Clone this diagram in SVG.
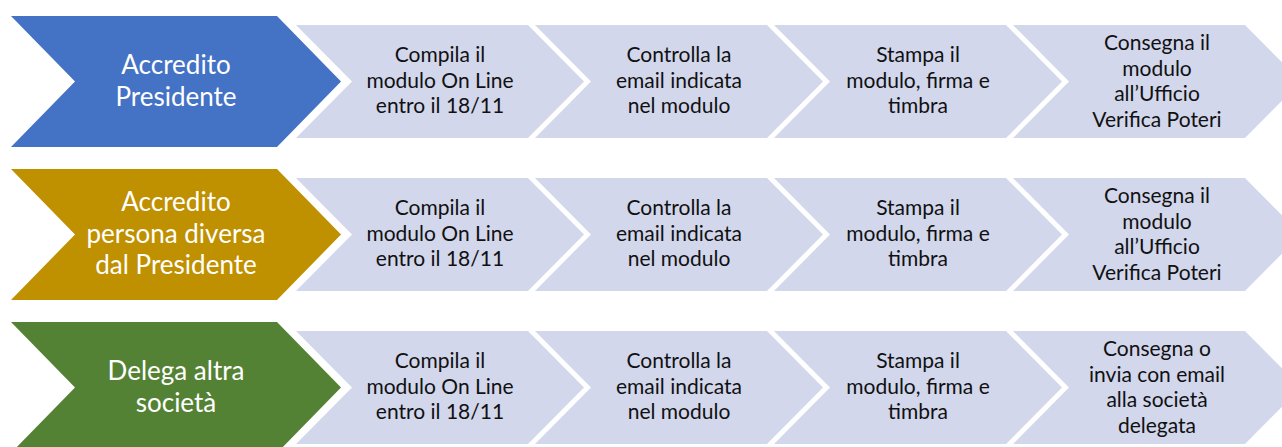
<svg xmlns="http://www.w3.org/2000/svg" width="1282" height="447" viewBox="0 0 1282 447">
<style>
.step{fill:#D2D7EC}
.lt{font-family:Lato,"Open Sans","Liberation Sans",sans-serif;font-size:21px;fill:#111;text-anchor:middle}
.wt{font-family:Lato,"Open Sans","Liberation Sans",sans-serif;font-size:26px;fill:#fff;text-anchor:middle}
</style>
<defs>
<polygon id="big" points="11,16 277,16 341,81.5 277,147 11,147 75,81.5"/>
<polygon id="sm" points="0,25 232,25 288,81.5 232,138 0,138 56,81.5"/>
</defs>
<rect width="1282" height="447" fill="#fff"/>
<g id="connectors"></g>

<!-- Row 1 -->
<g id="r1-head"><use href="#big" fill="#4472C4"/>
<text class="wt" x="176" y="74">Accredito</text><text class="wt" x="176" y="106">Presidente</text></g>
<g id="r1-s1"><use href="#sm" class="step" x="296"/>
<text class="lt" x="440" y="62">Compila il</text><text class="lt" x="440" y="88">modulo On Line</text><text class="lt" x="440" y="113">entro il 18/11</text></g>
<g id="r1-s2"><use href="#sm" class="step" x="535"/>
<text class="lt" x="679" y="62">Controlla la</text><text class="lt" x="679" y="88">email indicata</text><text class="lt" x="679" y="113">nel modulo</text></g>
<g id="r1-s3"><use href="#sm" class="step" x="774"/>
<text class="lt" x="918" y="62">Stampa il</text><text class="lt" x="918" y="88">modulo, firma e</text><text class="lt" x="918" y="113">timbra</text></g>
<g id="r1-s4"><use href="#sm" class="step" x="1013"/>
<text class="lt" x="1157" y="50">Consegna il</text><text class="lt" x="1157" y="76">modulo</text><text class="lt" x="1157" y="101">all’Ufficio</text><text class="lt" x="1157" y="127">Verifica Poteri</text></g>

<!-- Row 2 -->
<g id="r2-head"><use href="#big" fill="#BF9000" y="153"/>
<text class="wt" x="176" y="211">Accredito</text><text class="wt" x="176" y="243">persona diversa</text><text class="wt" x="176" y="274">dal Presidente</text></g>
<g id="r2-s1"><use href="#sm" class="step" x="296" y="153"/>
<text class="lt" x="440" y="215">Compila il</text><text class="lt" x="440" y="241">modulo On Line</text><text class="lt" x="440" y="266">entro il 18/11</text></g>
<g id="r2-s2"><use href="#sm" class="step" x="535" y="153"/>
<text class="lt" x="679" y="215">Controlla la</text><text class="lt" x="679" y="241">email indicata</text><text class="lt" x="679" y="266">nel modulo</text></g>
<g id="r2-s3"><use href="#sm" class="step" x="774" y="153"/>
<text class="lt" x="918" y="215">Stampa il</text><text class="lt" x="918" y="241">modulo, firma e</text><text class="lt" x="918" y="266">timbra</text></g>
<g id="r2-s4"><use href="#sm" class="step" x="1013" y="153"/>
<text class="lt" x="1157" y="203">Consegna il</text><text class="lt" x="1157" y="229">modulo</text><text class="lt" x="1157" y="254">all’Ufficio</text><text class="lt" x="1157" y="280">Verifica Poteri</text></g>

<!-- Row 3 -->
<g id="r3-head"><use href="#big" fill="#548235" y="306"/>
<text class="wt" x="176" y="380">Delega altra</text><text class="wt" x="176" y="412">società</text></g>
<g id="r3-s1"><use href="#sm" class="step" x="296" y="306"/>
<text class="lt" x="440" y="368">Compila il</text><text class="lt" x="440" y="394">modulo On Line</text><text class="lt" x="440" y="419">entro il 18/11</text></g>
<g id="r3-s2"><use href="#sm" class="step" x="535" y="306"/>
<text class="lt" x="679" y="368">Controlla la</text><text class="lt" x="679" y="394">email indicata</text><text class="lt" x="679" y="419">nel modulo</text></g>
<g id="r3-s3"><use href="#sm" class="step" x="774" y="306"/>
<text class="lt" x="918" y="368">Stampa il</text><text class="lt" x="918" y="394">modulo, firma e</text><text class="lt" x="918" y="419">timbra</text></g>
<g id="r3-s4"><use href="#sm" class="step" x="1013" y="306"/>
<text class="lt" x="1157" y="356">Consegna o</text><text class="lt" x="1157" y="382">invia con email</text><text class="lt" x="1157" y="407">alla società</text><text class="lt" x="1157" y="433">delegata</text></g>
</svg>
